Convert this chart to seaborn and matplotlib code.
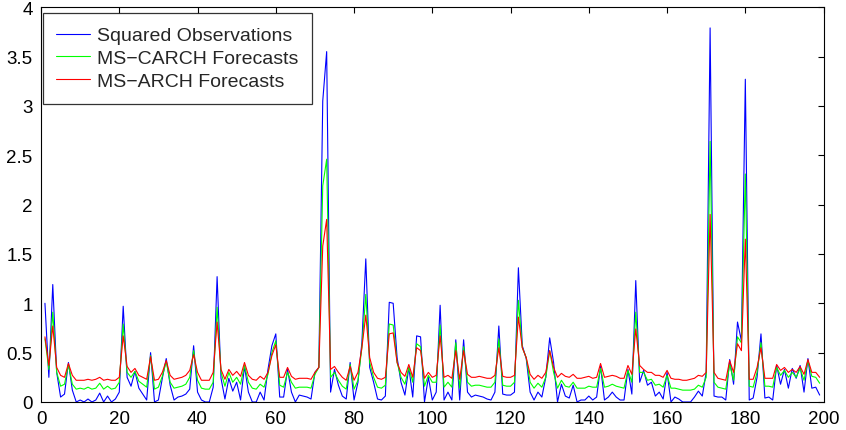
import numpy as np
import pandas as pd
import matplotlib
matplotlib.use("Agg")
import matplotlib.pyplot as plt
from matplotlib.ticker import FuncFormatter, MultipleLocator
import seaborn as sns

# time index 1..199
t = list(range(1, 200))

squared_obs = [
    1.00, 0.25, 1.19, 0.30, 0.05, 0.08, 0.40, 0.12, 0.00, 0.02,
    0.00, 0.03, 0.00, 0.02, 0.09, 0.00, 0.06, 0.00, 0.03, 0.10,
    0.97, 0.25, 0.16, 0.31, 0.14, 0.08, 0.02, 0.50, 0.00, 0.02,
    0.24, 0.44, 0.17, 0.02, 0.05, 0.06, 0.08, 0.13, 0.57, 0.10,
    0.02, 0.00, 0.00, 0.15, 1.27, 0.24, 0.03, 0.24, 0.11, 0.20,
    0.02, 0.36, 0.10, 0.00, 0.00, 0.10, 0.02, 0.33, 0.57, 0.69,
    0.05, 0.05, 0.33, 0.10, 0.00, 0.07, 0.06, 0.05, 0.03, 0.30,
    0.35, 3.05, 3.55, 0.10, 0.33, 0.17, 0.06, 0.03, 0.40, 0.02,
    0.20, 0.60, 1.45, 0.35, 0.20, 0.03, 0.02, 0.06, 1.01, 1.00,
    0.45, 0.20, 0.07, 0.35, 0.05, 0.67, 0.66, 0.00, 0.25, 0.02,
    0.10, 0.98, 0.02, 0.10, 0.02, 0.63, 0.02, 0.63, 0.10, 0.05,
    0.07, 0.06, 0.05, 0.03, 0.02, 0.10, 0.77, 0.08, 0.07, 0.07,
    0.10, 1.36, 0.57, 0.44, 0.10, 0.02, 0.10, 0.05, 0.25, 0.65,
    0.40, 0.00, 0.18, 0.06, 0.04, 0.17, 0.00, 0.02, 0.02, 0.06,
    0.02, 0.05, 0.36, 0.02, 0.05, 0.10, 0.05, 0.02, 0.02, 0.33,
    0.08, 1.23, 0.20, 0.32, 0.17, 0.20, 0.06, 0.10, 0.03, 0.30,
    0.00, 0.05, 0.03, 0.00, 0.00, 0.00, 0.05, 0.11, 0.06, 0.30,
    3.79, 0.06, 0.05, 0.05, 0.02, 0.43, 0.18, 0.81, 0.62, 3.27,
    0.02, 0.04, 0.25, 0.69, 0.04, 0.05, 0.02, 0.37, 0.18, 0.33,
    0.14, 0.34, 0.24, 0.37, 0.10, 0.44, 0.14, 0.15, 0.07,
]

ms_carch = [
    0.64, 0.33, 0.91, 0.30, 0.16, 0.18, 0.38, 0.18, 0.13, 0.14,
    0.13, 0.15, 0.13, 0.14, 0.19, 0.13, 0.16, 0.13, 0.14, 0.20,
    0.79, 0.30, 0.25, 0.31, 0.21, 0.18, 0.15, 0.47, 0.13, 0.15,
    0.26, 0.41, 0.20, 0.14, 0.15, 0.16, 0.18, 0.25, 0.52, 0.22,
    0.14, 0.13, 0.13, 0.20, 0.96, 0.30, 0.16, 0.30, 0.20, 0.25,
    0.18, 0.37, 0.20, 0.14, 0.13, 0.18, 0.15, 0.28, 0.50, 0.62,
    0.17, 0.15, 0.30, 0.20, 0.14, 0.15, 0.15, 0.15, 0.14, 0.28,
    0.35, 2.19, 2.46, 0.25, 0.30, 0.22, 0.16, 0.13, 0.38, 0.13,
    0.22, 0.55, 1.09, 0.40, 0.25, 0.15, 0.14, 0.17, 0.79, 0.78,
    0.40, 0.25, 0.18, 0.35, 0.20, 0.59, 0.56, 0.16, 0.27, 0.20,
    0.20, 0.78, 0.15, 0.20, 0.15, 0.60, 0.14, 0.56, 0.20, 0.16,
    0.17, 0.17, 0.16, 0.15, 0.15, 0.20, 0.64, 0.17, 0.16, 0.16,
    0.20, 1.03, 0.55, 0.45, 0.20, 0.14, 0.19, 0.15, 0.25, 0.52,
    0.30, 0.14, 0.22, 0.16, 0.15, 0.20, 0.14, 0.14, 0.14, 0.16,
    0.15, 0.15, 0.34, 0.15, 0.16, 0.18, 0.16, 0.15, 0.14, 0.32,
    0.20, 0.91, 0.30, 0.30, 0.22, 0.23, 0.17, 0.18, 0.15, 0.27,
    0.14, 0.14, 0.13, 0.12, 0.12, 0.12, 0.13, 0.17, 0.15, 0.25,
    2.64, 0.20, 0.15, 0.14, 0.13, 0.38, 0.22, 0.66, 0.60, 2.31,
    0.16, 0.15, 0.30, 0.60, 0.16, 0.16, 0.15, 0.35, 0.27, 0.32,
    0.25, 0.30, 0.25, 0.34, 0.22, 0.42, 0.26, 0.25, 0.19,
]

ms_arch = [
    0.66, 0.37, 0.77, 0.35, 0.27, 0.25, 0.39, 0.27, 0.22, 0.22,
    0.22, 0.23, 0.22, 0.23, 0.25, 0.22, 0.23, 0.22, 0.22, 0.25,
    0.67, 0.36, 0.30, 0.34, 0.27, 0.25, 0.23, 0.46, 0.22, 0.23,
    0.30, 0.42, 0.27, 0.23, 0.24, 0.25, 0.27, 0.32, 0.48, 0.30,
    0.22, 0.22, 0.22, 0.30, 0.81, 0.33, 0.23, 0.33, 0.27, 0.31,
    0.26, 0.40, 0.27, 0.23, 0.22, 0.26, 0.23, 0.30, 0.47, 0.58,
    0.25, 0.25, 0.35, 0.26, 0.23, 0.24, 0.24, 0.24, 0.23, 0.30,
    0.35, 1.58, 1.85, 0.33, 0.36, 0.30, 0.25, 0.22, 0.36, 0.22,
    0.30, 0.55, 0.88, 0.45, 0.30, 0.24, 0.23, 0.25, 0.69, 0.70,
    0.40, 0.30, 0.26, 0.38, 0.25, 0.55, 0.52, 0.24, 0.30, 0.25,
    0.27, 0.67, 0.25, 0.27, 0.24, 0.52, 0.23, 0.52, 0.28, 0.25,
    0.25, 0.26, 0.25, 0.24, 0.24, 0.27, 0.55, 0.26, 0.25, 0.25,
    0.27, 0.86, 0.55, 0.45, 0.28, 0.23, 0.27, 0.24, 0.30, 0.52,
    0.35, 0.25, 0.29, 0.26, 0.25, 0.28, 0.24, 0.24, 0.25, 0.26,
    0.24, 0.25, 0.39, 0.25, 0.26, 0.27, 0.26, 0.24, 0.24, 0.37,
    0.28, 0.74, 0.37, 0.33, 0.30, 0.30, 0.27, 0.27, 0.25, 0.32,
    0.24, 0.23, 0.23, 0.22, 0.22, 0.23, 0.24, 0.27, 0.26, 0.30,
    1.90, 0.30, 0.24, 0.23, 0.22, 0.42, 0.30, 0.59, 0.52, 1.65,
    0.23, 0.23, 0.35, 0.55, 0.24, 0.24, 0.24, 0.38, 0.32, 0.35,
    0.30, 0.33, 0.30, 0.36, 0.28, 0.43, 0.30, 0.30, 0.25,
]

SERIES_NAMES = ["Squared Observations", "MS\u2212CARCH Forecasts", "MS\u2212ARCH Forecasts"]
COLORS = ["#0000ff", "#00ff00", "#ff0000"]

# --- long-form table for seaborn ---
frames = []
for name, vals in zip(SERIES_NAMES, [squared_obs, ms_carch, ms_arch]):
    frames.append(pd.DataFrame({"t": t, "value": vals, "series": name}))
df = pd.concat(frames, ignore_index=True)

sns.set_style("white")
plt.rcParams["font.family"] = ["Liberation Sans", "DejaVu Sans"]
plt.rcParams["axes.linewidth"] = 0.8

fig = plt.figure(figsize=(8.46, 4.31), dpi=100)
ax = fig.add_axes([0.0485, 0.065, 0.925, 0.916])

sns.lineplot(
    data=df, x="t", y="value", hue="series",
    hue_order=SERIES_NAMES, palette=dict(zip(SERIES_NAMES, COLORS)),
    linewidth=0.8, ax=ax, legend=True,
)

ax.set_xlim(0, 200)
ax.set_ylim(0, 4)
ax.xaxis.set_major_locator(MultipleLocator(20))
ax.yaxis.set_major_locator(MultipleLocator(0.5))
ax.yaxis.set_major_formatter(FuncFormatter(lambda v, _: f"{v:g}"))
ax.set_xlabel("")
ax.set_ylabel("")
for s in ax.spines.values():
    s.set_color("black")
    s.set_visible(True)
ax.tick_params(direction="in", length=4, width=0.8, labelsize=13.5,
               top=True, right=True, colors="black", pad=6)

leg = ax.legend(loc="upper left", bbox_to_anchor=(0.002, 0.985), fontsize=14,
                frameon=True, fancybox=False, edgecolor="black",
                borderaxespad=0.0, handlelength=1.75, borderpad=0.7,
                labelspacing=0.27, handletextpad=0.36)
leg.get_frame().set_linewidth(0.9)
for line in leg.get_lines():
    line.set_linewidth(0.8)

fig.savefig("out.png", dpi=100)
